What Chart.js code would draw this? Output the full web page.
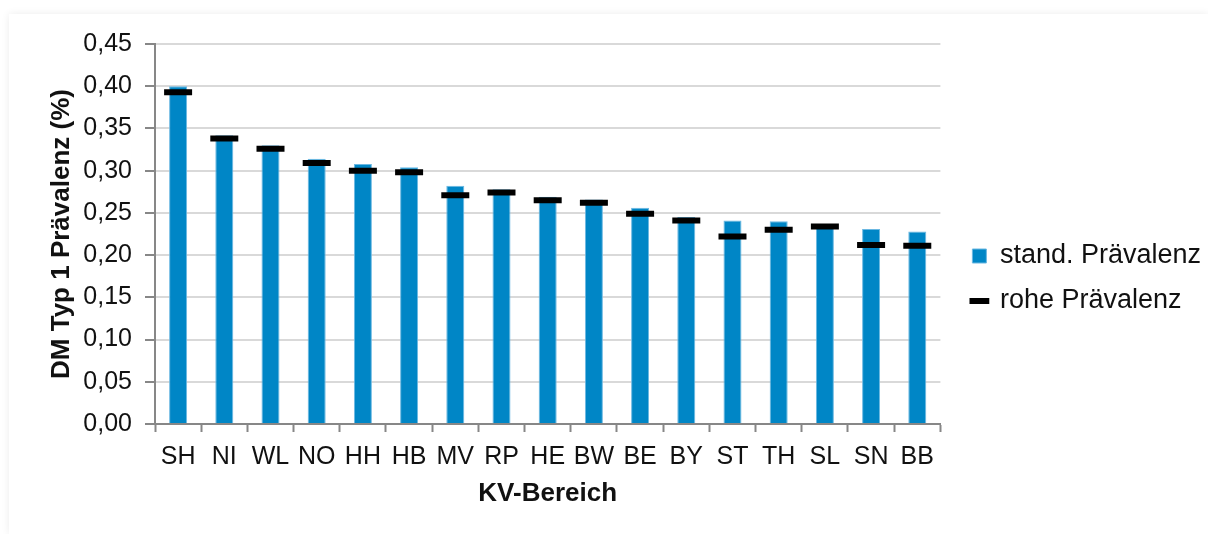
<!DOCTYPE html>
<html>
<head>
<meta charset="utf-8">
<script src="https://cdn.jsdelivr.net/npm/chart.js@4/dist/chart.umd.min.js"></script>
<style>
    html, body { margin: 0; padding: 0; background: #fff; overflow: hidden; }
    #card {
        position: absolute;
        left: 9px;
        top: 14px;
        width: 1199px;
        height: 520px;
        background: #fff;
        box-shadow: 0 0 8px rgba(0, 0, 0, 0.08);
    }
</style>
</head>
<body>
<div id="card"><canvas id="chart"></canvas></div>
<script>
const categories = ['SH', 'NI', 'WL', 'NO', 'HH', 'HB', 'MV', 'RP', 'HE', 'BW', 'BE', 'BY', 'ST', 'TH', 'SL', 'SN', 'BB'];
const standPraevalenz = [0.400, 0.342, 0.330, 0.314, 0.308, 0.304, 0.282, 0.278, 0.269, 0.266, 0.256, 0.245, 0.241, 0.240, 0.235, 0.231, 0.228];
const rohePraevalenz = [0.393, 0.338, 0.326, 0.309, 0.300, 0.298, 0.271, 0.274, 0.265, 0.262, 0.249, 0.241, 0.222, 0.230, 0.234, 0.212, 0.211];
const yTicks = [0, 0.05, 0.10, 0.15, 0.20, 0.25, 0.30, 0.35, 0.40, 0.45];

const fontFamily = "'Liberation Sans', Arial, sans-serif";

// nudge the legend a little to the right, away from the plot
const legendShift = {
    id: 'legendShift',
    afterLayout(chart) {
        const lg = chart.legend;
        if (lg) {
            lg.left += 14;
            lg.right += 14;
        }
    }
};

new Chart(document.getElementById('chart'), {
    data: {
        labels: categories,
        datasets: [
            {
                type: 'bar',
                label: 'stand. Prävalenz',
                data: standPraevalenz,
                backgroundColor: '#0086c6',
                borderColor: '#6bb8e2',
                borderWidth: 1,
                barPercentage: 0.39,
                categoryPercentage: 1,
                pointStyle: 'rect',
                order: 1
            },
            {
                type: 'line',
                label: 'rohe Prävalenz',
                data: rohePraevalenz,
                showLine: false,
                pointStyle: 'line',
                pointRadius: 14,
                pointHoverRadius: 14,
                borderWidth: 6,
                pointBorderWidth: 6,
                borderColor: '#000',
                backgroundColor: '#000',
                order: 0
            }
        ]
    },
    options: {
        responsive: true,
        maintainAspectRatio: false,
        animation: false,
        layout: {
            padding: { left: 33, top: 30, right: 11, bottom: 21 }
        },
        scales: {
            x: {
                grid: {
                    offset: true,
                    drawOnChartArea: false,
                    drawTicks: true,
                    tickLength: 8,
                    tickWidth: 2,
                    tickColor: '#878787'
                },
                border: { color: '#878787', width: 2 },
                ticks: {
                    font: { family: fontFamily, size: 25 },
                    color: '#111',
                    padding: 10,
                    maxRotation: 0,
                    autoSkip: false
                },
                title: {
                    display: true,
                    text: 'KV-Bereich',
                    font: { family: fontFamily, size: 26, weight: 'bold' },
                    color: '#111'
                },
                afterFit: function(scale) { scale.height = 89; }
            },
            y: {
                min: 0,
                max: 0.45,
                afterBuildTicks: function(scale) {
                    scale.ticks = yTicks.map(v => ({ value: v }));
                },
                grid: {
                    color: '#d9d9d9',
                    lineWidth: 2,
                    tickLength: 10,
                    tickWidth: 2,
                    tickColor: '#878787'
                },
                border: { color: '#878787', width: 2 },
                ticks: {
                    font: { family: fontFamily, size: 25 },
                    color: '#111',
                    padding: 13,
                    callback: function(value) {
                        return value.toFixed(2).replace('.', ',');
                    }
                },
                title: {
                    display: true,
                    text: 'DM Typ 1 Prävalenz (%)',
                    font: { family: fontFamily, size: 26, weight: 'bold' },
                    color: '#111'
                },
                afterFit: function(scale) { scale.width = 113; }
            }
        },
        plugins: {
            legend: {
                position: 'right',
                align: 'center',
                labels: {
                    usePointStyle: true,
                    boxWidth: 14,
                    boxHeight: 14,
                    padding: 18,
                    font: { family: fontFamily, size: 27 },
                    color: '#111',
                    sort: function(a, b) { return a.datasetIndex - b.datasetIndex; }
                }
            },
            tooltip: { enabled: false }
        }
    },
    plugins: [legendShift]
});
</script>
</body>
</html>
